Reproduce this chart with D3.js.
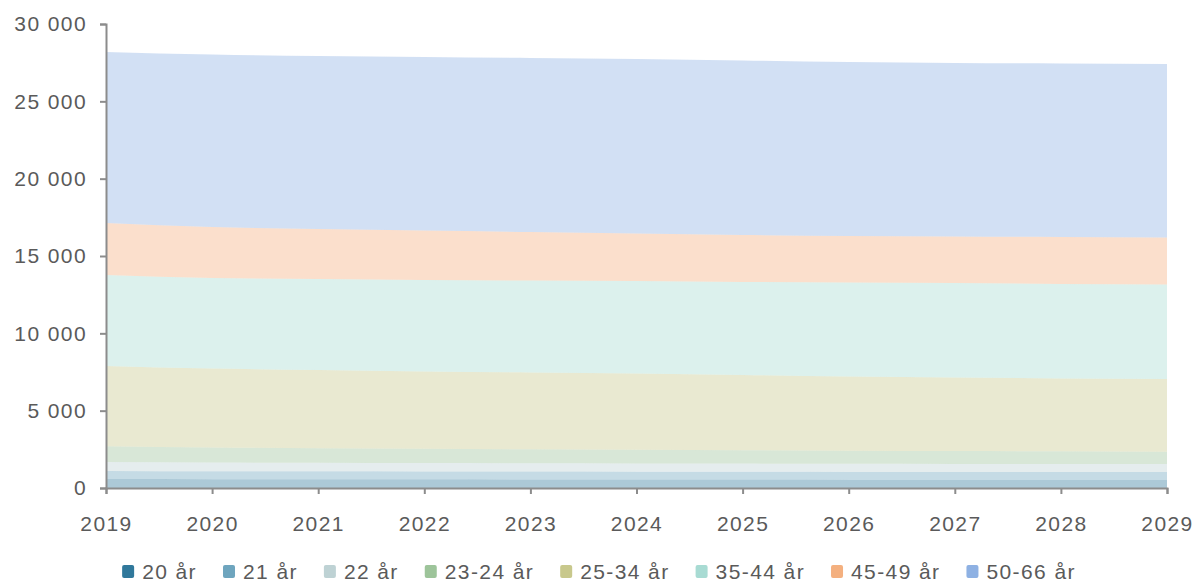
<!DOCTYPE html>
<html>
<head>
<meta charset="utf-8">
<script src="https://d3js.org/d3.v7.min.js"></script>
<style>
  body { margin: 0; background: #fff; }
  text { font-family: "Liberation Sans", Arial, sans-serif; fill: #5a5a5a; letter-spacing: 1.4px; }
</style>
</head>
<body>
<svg id="chart" width="1198" height="583"></svg>
<script>
// years on the x axis
var years = [2019, 2020, 2021, 2022, 2023, 2024, 2025, 2026, 2027, 2028, 2029];

// series, bottom to top
var seriesNames = ["20 år", "21 år", "22 år", "23-24 år", "25-34 år", "35-44 år", "45-49 år", "50-66 år"];
var ar20   = [580, 570, 565, 560, 555, 550, 545, 540, 535, 532, 530];
var ar21   = [520, 515, 512, 510, 508, 506, 504, 502, 500, 500, 500];
var ar22   = [580, 560, 550, 540, 535, 530, 528, 525, 522, 520, 520];
var ar2324 = [1020, 975, 943, 920, 902, 884, 863, 843, 833, 818, 800];
var ar2534 = [5190, 5105, 5060, 5000, 4965, 4930, 4865, 4800, 4755, 4710, 4695];
var ar3544 = [5880, 5850, 5880, 5915, 5950, 5980, 6015, 6075, 6110, 6110, 6110];
var ar4549 = [3360, 3295, 3235, 3205, 3135, 3075, 3035, 3005, 3005, 3035, 3040];
var ar5066 = [11060, 11155, 11185, 11215, 11250, 11280, 11285, 11250, 11215, 11220, 11215];

var yTicks = [0, 5000, 10000, 15000, 20000, 25000, 30000];
var colors = ["#30789b", "#6ea5be", "#bed2d4", "#9dc49a", "#c8c88c", "#a8dbd3", "#f4b07f", "#8eb1e3"];

var allSeries = [ar20, ar21, ar22, ar2324, ar2534, ar3544, ar4549, ar5066];
var table = years.map(function(y, i) {
  var row = {year: y};
  seriesNames.forEach(function(n, k) { row[n] = allSeries[k][i]; });
  return row;
});

var svg = d3.select("#chart");
var margin = {left: 106, right: 31, top: 24, bottom: 95};
var W = 1198, H = 583;

var x = d3.scaleLinear().domain([2019, 2029]).range([margin.left, W - margin.right]);
var y = d3.scaleLinear().domain([0, 30000]).range([H - margin.bottom, margin.top]);

var color = d3.scaleOrdinal().domain(seriesNames).range(colors);

var stack = d3.stack().keys(seriesNames);
var layers = stack(table);

var area = d3.area()
  .x(function(d) { return x(d.data.year); })
  .y0(function(d) { return y(d[0]); })
  .y1(function(d) { return y(d[1]); })
  .curve(d3.curveMonotoneX);

svg.append("g")
  .selectAll("path")
  .data(layers)
  .enter().append("path")
  .attr("d", area)
  .attr("fill", function(d) { return color(d.key); })
  .attr("fill-opacity", 0.4);

var sv = d3.formatLocale({decimal: ",", thousands: " ", grouping: [3], currency: ["", " kr"]});
var fmt = sv.format(",");

// y axis
var gy = svg.append("g")
  .attr("transform", "translate(" + margin.left + ",0)")
  .call(d3.axisLeft(y).tickValues(yTicks).tickFormat(fmt).tickSize(6).tickPadding(13));
gy.selectAll("text").style("font-size", "21px");

// x axis
var gx = svg.append("g")
  .attr("transform", "translate(0," + (H - margin.bottom) + ")")
  .call(d3.axisBottom(x).tickValues(years).tickFormat(d3.format("d")).tickSize(6).tickPadding(22));
gx.selectAll("text").style("font-size", "21px");

svg.selectAll(".domain, .tick line").attr("stroke", "#8c8c8c").attr("stroke-width", 2);

// legend
var legend = svg.append("g");
var items = legend.selectAll("g").data(seriesNames).enter().append("g");
items.append("rect")
  .attr("width", 12).attr("height", 13).attr("rx", 2)
  .attr("y", -7)
  .attr("fill", function(d) { return color(d); });
items.append("text")
  .attr("x", 20).attr("dy", "0.35em")
  .style("font-size", "21px")
  .text(function(d) { return d; });

var pos = 0, gap = 26;
items.each(function() {
  var w = this.getBBox().width;
  d3.select(this).attr("transform", "translate(" + pos + ",0)");
  pos += w + gap;
});
var total = pos - gap;
legend.attr("transform", "translate(" + ((W - total) / 2) + ",572)");
</script>
</body>
</html>
